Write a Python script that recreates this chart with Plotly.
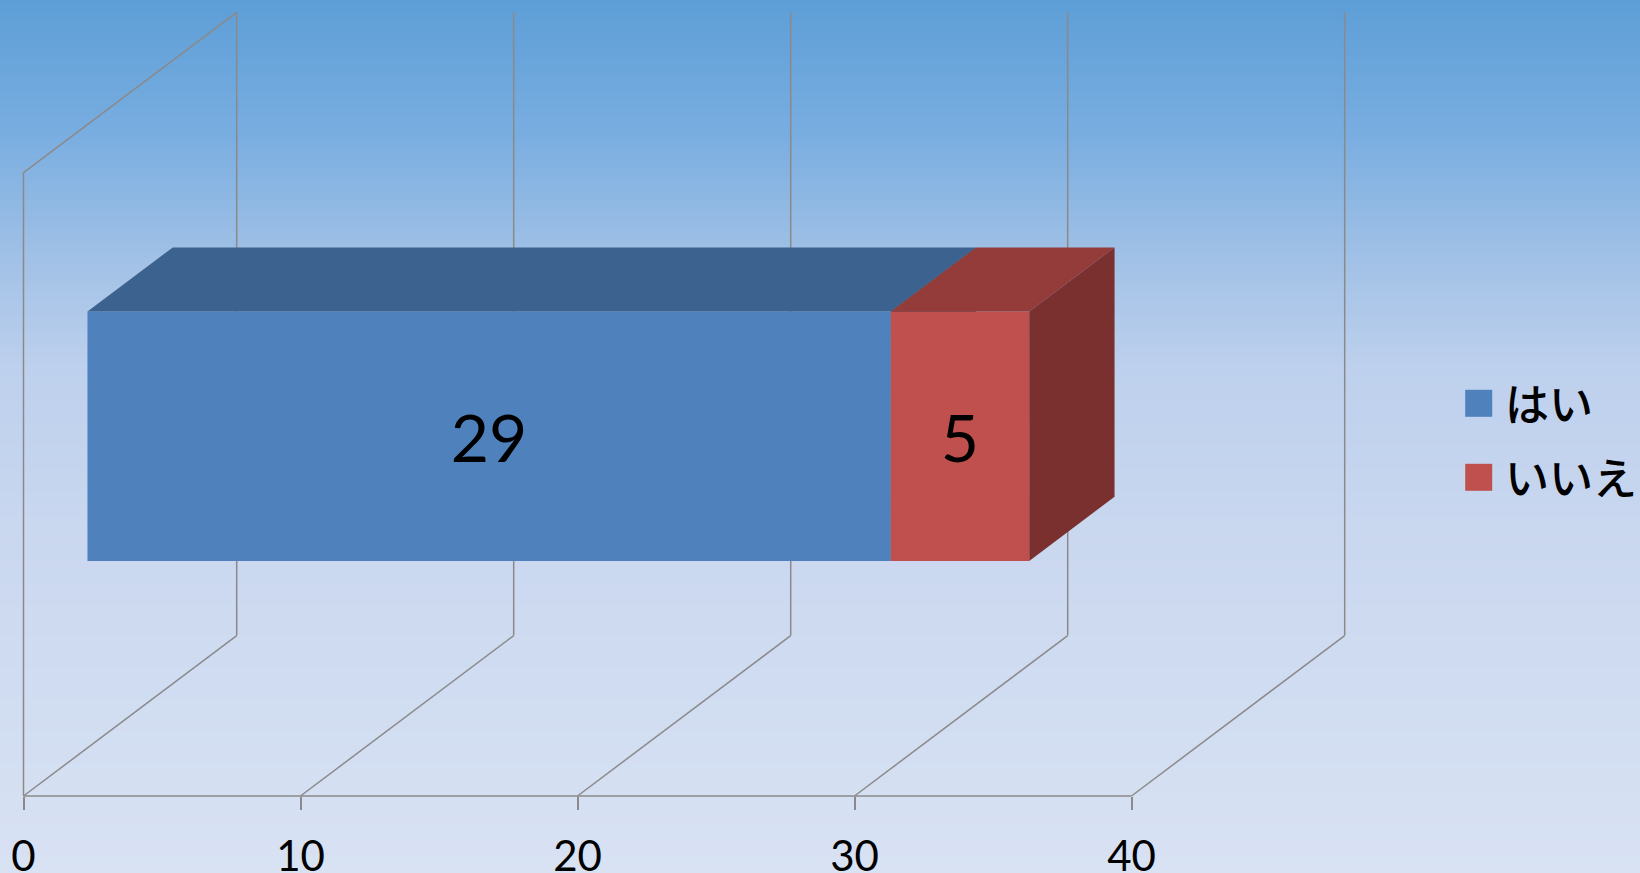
import numpy as np
import plotly.graph_objects as go

# ---------------- data ----------------
categories = ["はい", "いいえ"]
values = [29, 5]
tick_values = [0, 10, 20, 30, 40]
tick_labels = ["0", "10", "20", "30", "40"]

# ---------------- style ----------------
colors_front = ["#4f81bd", "#c0504d"]
colors_top = ["#3c638f", "#943c3a"]
colors_side = ["#334f75", "#7b3030"]
grid_color = "#8a8a8a"
bg_stops = [  # fraction from top -> colour
    (0.00, "#5d9ed6"),
    (0.15, "#78ade0"),
    (0.30, "#a2c1e6"),
    (0.42, "#bdd0ed"),
    (0.60, "#c9d7ef"),
    (1.00, "#d8e2f3"),
]

W, H = 1640, 873
X0_PX = 23.5          # screen x of value 0 on the front edge
PX_PER_UNIT = 27.7    # screen px per value unit
FLOOR_PX = 796        # screen y of the front floor edge
WALL_H_PX = 623.3     # wall height in px (= 1 height unit)
DEPTH_DX_PX = 213.2   # oblique depth shift (x)
DEPTH_DY_PX = 160.4   # oblique depth shift (y, upward)
LABEL_DY_PX = 9       # data-label nudge downwards

DX = DEPTH_DX_PX / PX_PER_UNIT
DY = DEPTH_DY_PX / WALL_H_PX
x_range = [-X0_PX / PX_PER_UNIT, (W - X0_PX) / PX_PER_UNIT]
y_range = [-(H - FLOOR_PX) / WALL_H_PX, FLOOR_PX / WALL_H_PX]

GAP = 1.5                         # gap width 150 %
BAR_FRAC = 1.0 / (1.0 + GAP)
Z0, Z1 = 0.5 - BAR_FRAC / 2, 0.5 + BAR_FRAC / 2   # depth of bar
H0, H1 = 0.5 - BAR_FRAC / 2, 0.5 + BAR_FRAC / 2   # height of bar


def proj(v, h, z):
    return v + z * DX, h + z * DY


fig = go.Figure()

# ---------------- background gradient ----------------
n_rows = 436
y_edges = np.linspace(y_range[0], y_range[1], n_rows + 1)
y_cent = (y_edges[:-1] + y_edges[1:]) / 2
frac_top = (y_range[1] - y_cent) / (y_range[1] - y_range[0])
fig.add_trace(go.Heatmap(
    x=[x_range[0], x_range[1]], y=y_edges,
    z=[[f] for f in frac_top], zmin=0, zmax=1,
    colorscale=[[s, c] for s, c in bg_stops],
    showscale=False, hoverinfo="skip",
))

# ---------------- walls / gridlines ----------------
gx, gy = [], []


def seg(p, q):
    a = proj(*p)
    b = proj(*q)
    gx.extend([a[0], b[0], None])
    gy.extend([a[1], b[1], None])


for t in tick_values:
    seg((t, 0, 0), (t, 0, 1))   # floor diagonal
    seg((t, 0, 1), (t, 1, 1))   # back wall vertical
seg((tick_values[0], 0, 0), (tick_values[0], 1, 0))   # side wall front edge
seg((tick_values[0], 1, 0), (tick_values[0], 1, 1))   # side wall top edge
seg((tick_values[0], 0, 0), (tick_values[-1], 0, 0))  # front axis line
fig.add_trace(go.Scatter(x=gx, y=gy, mode="lines",
                         line=dict(color=grid_color, width=1.5),
                         hoverinfo="skip", showlegend=False))

# ---------------- 3D stacked bar ----------------
start = 0
for name, val, cf, ct, cs in zip(categories, values, colors_front, colors_top, colors_side):
    a, b = start, start + val
    faces = [
        ([(a, H0, Z0), (b, H0, Z0), (b, H1, Z0), (a, H1, Z0)], cf),   # front
        ([(a, H1, Z0), (b, H1, Z0), (b, H1, Z1), (a, H1, Z1)], ct),   # top
        ([(b, H0, Z0), (b, H1, Z0), (b, H1, Z1), (b, H0, Z1)], cs),   # side
    ]
    for pts, col in faces:
        xy = [proj(*p) for p in pts]
        xs = [p[0] for p in xy] + [xy[0][0]]
        ys = [p[1] for p in xy] + [xy[0][1]]
        fig.add_trace(go.Scatter(x=xs, y=ys, mode="lines", fill="toself",
                                 fillcolor=col, line=dict(width=0, color=col),
                                 name=name, hoverinfo="skip", showlegend=False))
    start = b

# data labels
lab_x, lab_y, lab_t = [], [], []
start = 0
for val in values:
    px_, py_ = proj(start + val / 2, 0.5, Z0)
    lab_x.append(px_)
    lab_y.append(py_ - LABEL_DY_PX / WALL_H_PX)
    lab_t.append(str(val))
    start += val
fig.add_trace(go.Scatter(x=lab_x, y=lab_y, text=lab_t, mode="text",
                         textposition="middle center",
                         textfont=dict(family="Lato, Open Sans, sans-serif", size=66, color="black"),
                         hoverinfo="skip", showlegend=False))

# ---------------- legend (manual) ----------------
LEG_SQ_X = 1478.7
LEG_TXT_X = 1503
LEG_Y = [403.3, 477.3]
LEG_SQ = 27
shapes, annotations = [], []
for name, col, ly in zip(categories, colors_front, LEG_Y):
    shapes.append(dict(type="rect", xref="paper", yref="paper",
                       x0=(LEG_SQ_X - LEG_SQ / 2) / W, x1=(LEG_SQ_X + LEG_SQ / 2) / W,
                       y0=1 - (ly + LEG_SQ / 2) / H, y1=1 - (ly - LEG_SQ / 2) / H,
                       fillcolor=col, line=dict(width=0), layer="above"))
    annotations.append(dict(text=name, xref="paper", yref="paper",
                            x=LEG_TXT_X / W, y=1 - (ly - 1.5) / H,
                            xanchor="left", yanchor="middle", showarrow=False,
                            font=dict(family="Noto Sans CJK JP", size=44, color="black",
                                      weight=500)))

fig.update_layout(
    width=W, height=H,
    margin=dict(l=0, r=0, t=0, b=0, autoexpand=False),
    paper_bgcolor="#d8e2f3", plot_bgcolor="rgba(0,0,0,0)",
    showlegend=False,
    shapes=shapes, annotations=annotations,
    xaxis=dict(range=x_range, anchor="free", position=(H - FLOOR_PX) / H,
               automargin=False,
               tickmode="array", tickvals=tick_values, ticktext=tick_labels,
               ticks="outside", ticklen=13, tickwidth=1.5, tickcolor=grid_color,
               showgrid=False, zeroline=False, showline=False,
               ticklabelstandoff=11,
               tickfont=dict(family="Lato, Open Sans, sans-serif", size=42, color="black"),
               fixedrange=True),
    yaxis=dict(range=y_range, visible=False, automargin=False, fixedrange=True),
)

fig.write_html("out.html")
